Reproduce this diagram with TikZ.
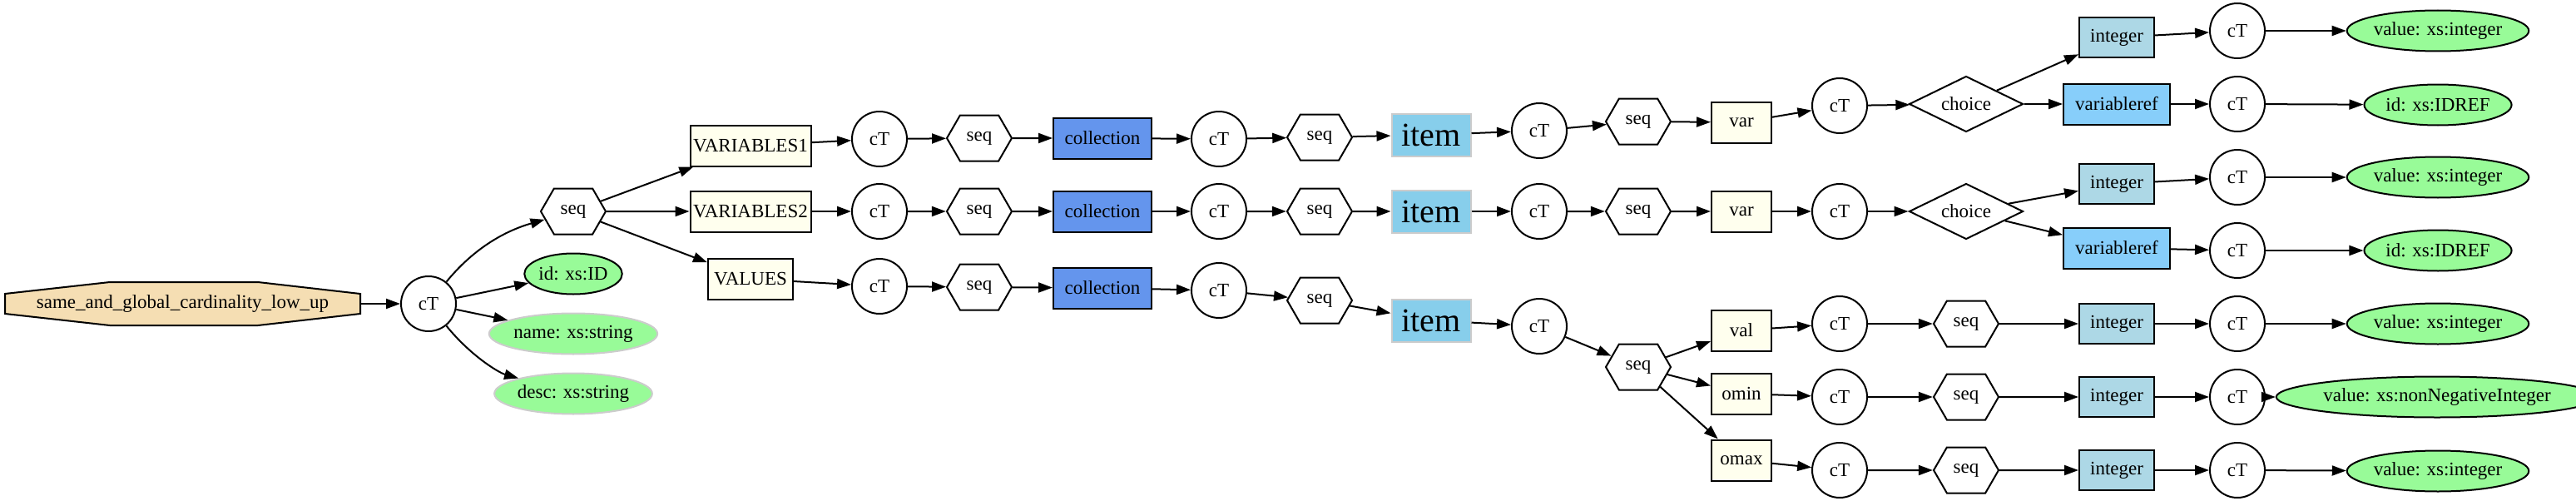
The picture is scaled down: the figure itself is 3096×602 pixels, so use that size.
\documentclass[tikz,border=0pt]{standalone}
\usepackage{fontspec}
\setmainfont{Liberation Serif}
\usetikzlibrary{shapes.geometric,shapes.symbols,arrows.meta}
\definecolor{wheatc}{HTML}{F5DEB3}
\definecolor{ivoryc}{HTML}{FFFFEE}
\definecolor{collc}{HTML}{6495ED}
\definecolor{itemc}{HTML}{87CEEB}
\definecolor{intc}{HTML}{ADD8E6}
\definecolor{vrefc}{HTML}{87CEFA}
\definecolor{greenc}{HTML}{98FB98}
\definecolor{greyb}{HTML}{CCCCCC}
\begin{document}
\begin{tikzpicture}[x=1pt,y=-1pt,
  every node/.style={font=\fontsize{23}{26}\selectfont, inner sep=0pt, line width=2pt},
  ct/.style={circle, draw, minimum size=66pt},
  hex/.style={signal, signal to=east and west, signal pointer angle=120, draw, minimum width=78pt, minimum height=55pt},
  ybox/.style={rectangle, draw, fill=ivoryc, minimum height=49pt},
  coll/.style={rectangle, draw, fill=collc, minimum width=118pt, minimum height=49pt},
  itm/.style={rectangle, draw=greyb, fill=itemc, minimum width=95pt, minimum height=51pt, font=\fontsize{40}{42}\selectfont},
  intb/.style={rectangle, draw, fill=intc, minimum width=90pt, minimum height=48pt},
  vref/.style={rectangle, draw, fill=vrefc, minimum width=128pt, minimum height=49pt},
  chc/.style={diamond, draw, aspect=2, minimum width=137pt, minimum height=67pt},
  gell/.style={ellipse, draw, fill=greenc, minimum height=49pt},
  gellg/.style={ellipse, draw=greyb, fill=greenc, minimum height=49pt},
  edge/.style={line width=2pt, -{Triangle[length=17pt,width=12pt]}}
]
\useasboundingbox (0,0) rectangle (3096,602);
% root
\draw[fill=wheatc, line width=2pt] (6,353) -- (132,339) -- (310,339) -- (433,353) -- (433,377) -- (310,391) -- (132,391) -- (6,377) -- cycle;
\node[minimum width=427pt, minimum height=52pt] (root) at (219.5,365) {same\_and\_global\_cardinality\_low\_up};
\node[ct] (ct0) at (515,365) {cT};
\node[hex] (seq0) at (689,254) {seq};
\node[gell, minimum width=112pt] (idn) at (689,329) {id: xs:ID};
\node[gellg, minimum width=184pt] (namen) at (689,401) {name: xs:string};
\node[gellg, minimum width=173pt] (descn) at (689,473) {desc: xs:string};
\node[ybox, minimum width=145pt] (v1) at (902,175) {VARIABLES1};
\node[ybox, minimum width=145pt] (v2) at (902,254) {VARIABLES2};
\node[ybox, minimum width=102pt] (v3) at (902,335) {VALUES};
% row 1
\node[ct] (a1) at (1057,167) {cT};
\node[hex] (b1) at (1177,166) {seq};
\node[coll] (c1) at (1325,166) {collection};
\node[ct] (d1) at (1465,167) {cT};
\node[hex] (e1) at (1586,165) {seq};
\node[itm] (f1) at (1720,162) {item};
\node[ct] (g1) at (1850,157) {cT};
\node[hex] (h1) at (1969,146) {seq};
\node[ybox, minimum width=72pt] (i1) at (2093,147) {var};
\node[ct] (j1) at (2211,127) {cT};
\node[chc] (k1) at (2363,125) {choice};
\node[intb] (l1) at (2544,45) {integer};
\node[vref] (m1) at (2544,125) {variableref};
\node[ct] (n1) at (2689,37) {cT};
\node[ct] (o1) at (2689,125) {cT};
\node[gell, minimum width=195pt] (p1) at (2930,37) {value: xs:integer};
\node[gell, minimum width=151pt] (q1) at (2930,126) {id: xs:IDREF};
% row 2
\node[ct] (a2) at (1057,254) {cT};
\node[hex] (b2) at (1177,254) {seq};
\node[coll] (c2) at (1325,254) {collection};
\node[ct] (d2) at (1465,254) {cT};
\node[hex] (e2) at (1586,254) {seq};
\node[itm] (f2) at (1720,254) {item};
\node[ct] (g2) at (1850,254) {cT};
\node[hex] (h2) at (1969,254) {seq};
\node[ybox, minimum width=72pt] (i2) at (2093,254) {var};
\node[ct] (j2) at (2211,254) {cT};
\node[chc] (k2) at (2363,254) {choice};
\node[intb] (l2) at (2544,221) {integer};
\node[vref] (m2) at (2544,298) {variableref};
\node[ct] (n2) at (2689,213) {cT};
\node[ct] (o2) at (2689,301) {cT};
\node[gell, minimum width=195pt] (p2) at (2930,213) {value: xs:integer};
\node[gell, minimum width=151pt] (q2) at (2930,301) {id: xs:IDREF};
% row 3
\node[ct] (a3) at (1057,344) {cT};
\node[hex] (b3) at (1177,345) {seq};
\node[coll] (c3) at (1325,346) {collection};
\node[ct] (d3) at (1465,349) {cT};
\node[hex] (e3) at (1586,361) {seq};
\node[itm] (f3) at (1720,385) {item};
\node[ct] (g3) at (1850,392) {cT};
\node[hex] (h3) at (1969,441) {seq};
\node[ybox, minimum width=72pt] (s1) at (2093,397) {val};
\node[ybox, minimum width=72pt] (s2) at (2093,473) {omin};
\node[ybox, minimum width=72pt] (s3) at (2093,553) {omax};
\node[ct] (t1) at (2211,389) {cT};
\node[ct] (t2) at (2211,477) {cT};
\node[ct] (t3) at (2211,565) {cT};
\node[hex] (u1) at (2363,389) {seq};
\node[hex] (u2) at (2363,477) {seq};
\node[hex] (u3) at (2363,565) {seq};
\node[intb] (w1) at (2544,389) {integer};
\node[intb] (w2) at (2544,477) {integer};
\node[intb] (w3) at (2544,565) {integer};
\node[ct] (x1) at (2689,389) {cT};
\node[ct] (x2) at (2689,477) {cT};
\node[ct] (x3) at (2689,565) {cT};
\node[gell, minimum width=195pt] (z1) at (2930,389) {value: xs:integer};
\node[gell, minimum width=321pt] (z2) at (2929,477) {value: xs:nonNegativeInteger};
\node[gell, minimum width=195pt] (z3) at (2930,566) {value: xs:integer};
% edges
\draw[edge] (root) -- (ct0);
\draw[edge] (ct0) .. controls (568,300) and (605,278) .. (seq0);
\draw[edge] (ct0) -- (idn);
\draw[edge] (ct0) -- (namen);
\draw[edge] (ct0) .. controls (566,428) and (600,448) .. (descn);
\draw[edge] (seq0) -- (v1);
\draw[edge] (seq0) -- (v2);
\draw[edge] (seq0) -- (v3);
\foreach \r in {1,2}{
  \draw[edge] (v\r) -- (a\r);
  \draw[edge] (a\r) -- (b\r);
  \draw[edge] (b\r) -- (c\r);
  \draw[edge] (c\r) -- (d\r);
  \draw[edge] (d\r) -- (e\r);
  \draw[edge] (e\r) -- (f\r);
  \draw[edge] (f\r) -- (g\r);
  \draw[edge] (g\r) -- (h\r);
  \draw[edge] (h\r) -- (i\r);
  \draw[edge] (i\r) -- (j\r);
  \draw[edge] (j\r) -- (k\r);
  \draw[edge] (k\r) -- (l\r);
  \draw[edge] (k\r) -- (m\r);
  \draw[edge] (l\r) -- (n\r);
  \draw[edge] (m\r) -- (o\r);
  \draw[edge] (n\r) -- (p\r);
  \draw[edge] (o\r) -- (q\r);
}
\draw[edge] (v3) -- (a3);
\draw[edge] (a3) -- (b3);
\draw[edge] (b3) -- (c3);
\draw[edge] (c3) -- (d3);
\draw[edge] (d3) -- (e3);
\draw[edge] (e3) -- (f3);
\draw[edge] (f3) -- (g3);
\draw[edge] (g3) -- (h3);
\foreach \r in {1,2,3}{
  \draw[edge] (h3) -- (s\r);
  \draw[edge] (s\r) -- (t\r);
  \draw[edge] (t\r) -- (u\r);
  \draw[edge] (u\r) -- (w\r);
  \draw[edge] (w\r) -- (x\r);
  \draw[edge] (x\r) -- (z\r);
}
\end{tikzpicture}
\end{document}
